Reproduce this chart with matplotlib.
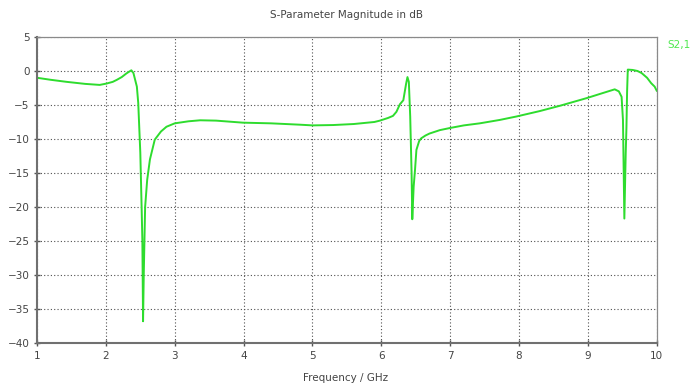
import numpy as np
import matplotlib
matplotlib.use('Agg')
import matplotlib.pyplot as plt

# S21 magnitude trace (GHz, dB)
freq = [1.00, 1.20, 1.43, 1.70, 1.91, 2.01, 2.10, 2.16, 2.23, 2.30, 2.37,
        2.40, 2.45, 2.47, 2.50, 2.52, 2.53, 2.54, 2.55, 2.57, 2.60, 2.64,
        2.71, 2.80, 2.88, 3.00, 3.20, 3.37, 3.60, 3.99, 4.40, 4.82, 5.00,
        5.30, 5.60, 5.90, 5.98, 6.10, 6.17, 6.22, 6.27, 6.32, 6.36, 6.38,
        6.40, 6.42, 6.44, 6.45, 6.47, 6.49, 6.51, 6.55, 6.58, 6.64, 6.70,
        6.85, 6.99, 7.20, 7.43, 7.72, 7.96, 8.30, 8.60, 8.98, 9.20, 9.39,
        9.45, 9.49, 9.51, 9.53, 9.55, 9.56, 9.57, 9.58, 9.65, 9.72, 9.78,
        9.86, 9.92, 9.97, 10.00]
s21_db = [-1.0, -1.3, -1.6, -1.9, -2.05, -1.85, -1.6, -1.3, -0.9, -0.35, 0.1,
          -0.3, -2.3, -4.7, -12.0, -20.4, -25.0, -36.8, -30.0, -20.0, -16.0, -13.0,
          -10.1, -8.9, -8.2, -7.7, -7.4, -7.25, -7.3, -7.6, -7.7, -7.9, -8.0,
          -7.95, -7.8, -7.5, -7.3, -6.9, -6.6, -6.0, -4.9, -4.3, -1.9, -0.9,
          -1.6, -6.7, -15.0, -21.8, -17.0, -14.5, -11.6, -10.3, -9.9, -9.5, -9.2,
          -8.7, -8.4, -8.0, -7.7, -7.2, -6.7, -5.9, -5.1, -4.0, -3.3, -2.7,
          -3.0, -3.8, -7.2, -21.7, -12.0, -8.5, -3.0, 0.2, 0.15, 0.0, -0.3,
          -1.0, -1.8, -2.3, -2.9]

xticks = [1, 2, 3, 4, 5, 6, 7, 8, 9, 10]
yticks = [5, 0, -5, -10, -15, -20, -25, -30, -35, -40]

green = '#2edc2e'
txt = '#444444'

fig = plt.figure(figsize=(6.92, 3.85), dpi=100)
ax = fig.add_axes([0.0535, 0.109, 0.8955, 0.795])
ax.plot(freq, s21_db, color=green, lw=1.4)

ax.set_xlim(1, 10)
ax.set_ylim(-40, 5)
ax.set_xticks(xticks)
ax.set_yticks(yticks)
ax.grid(True, color='#505050', linestyle=(0, (1, 2)), linewidth=0.8)

for side in ['left', 'bottom']:
    ax.spines[side].set_color('#707070')
    ax.spines[side].set_linewidth(1.5)
for side in ['top', 'right']:
    ax.spines[side].set_color('#8a8a8a')
    ax.spines[side].set_linewidth(0.9)
ax.tick_params(direction='inout', length=5, width=1, color='#555555',
               labelsize=7.5, labelcolor=txt, pad=3)

fig.text(0.5, 0.96, 'S-Parameter Magnitude in dB', ha='center', va='center',
         fontsize=7.5, color=txt)
fig.text(0.5, 0.018, 'Frequency / GHz', ha='center', va='center',
         fontsize=7.5, color=txt)
fig.text(0.965, 0.883, 'S2,1', ha='left', va='center', fontsize=7.5,
         color='#4fe84f')

fig.savefig('out.png', dpi=100)
